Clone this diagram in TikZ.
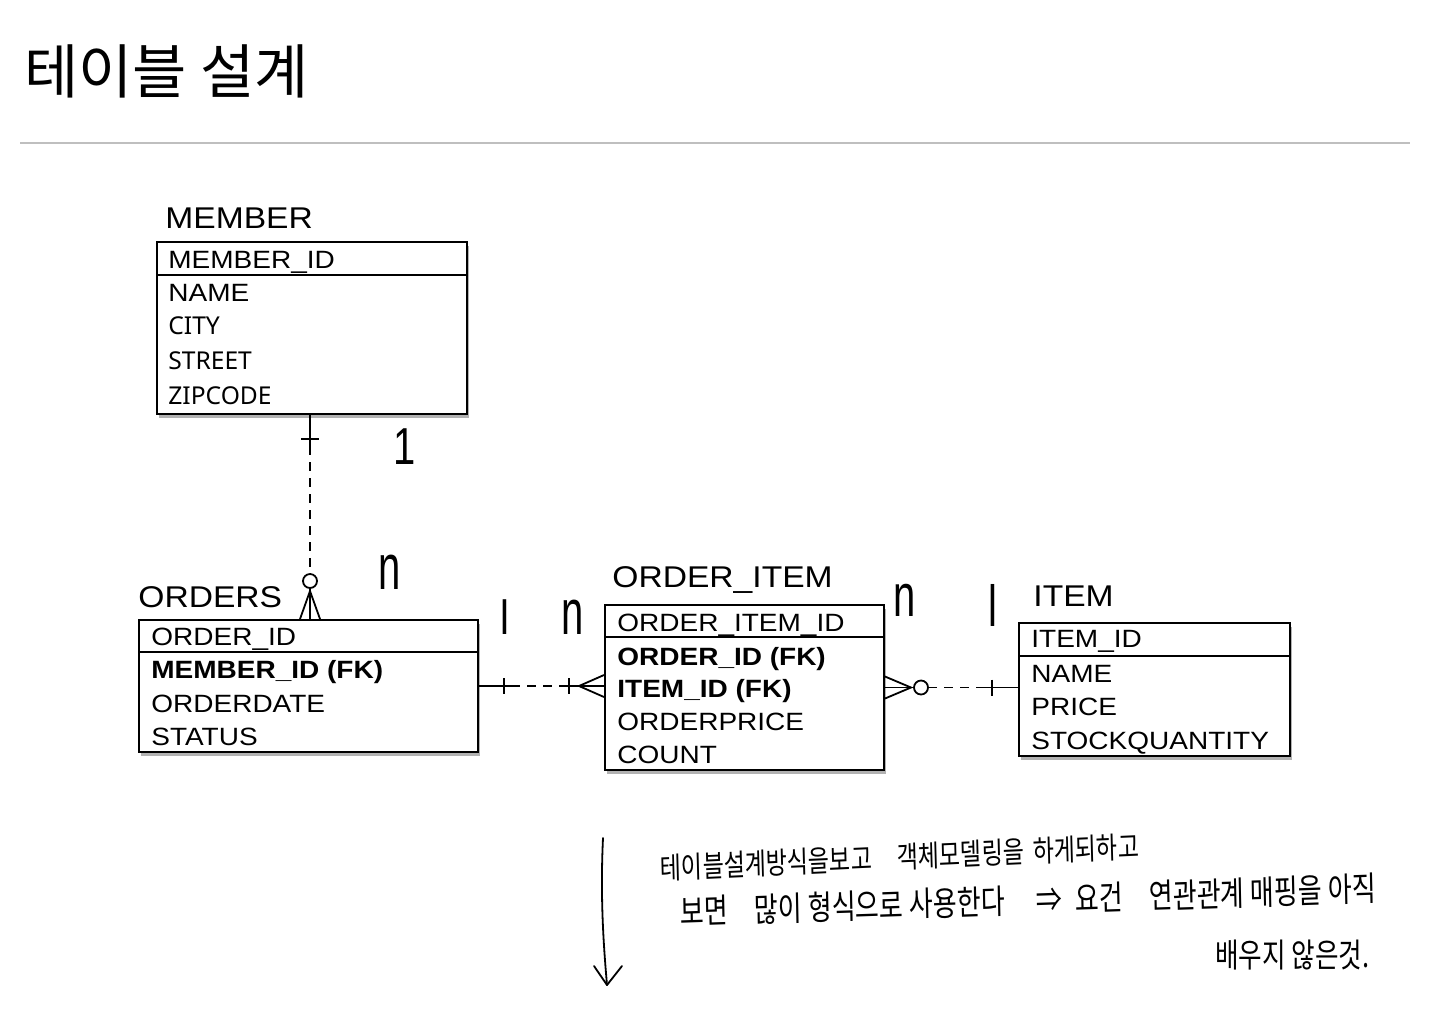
\documentclass[tikz,border=0pt]{standalone}
\usepackage{fontspec}
\usetikzlibrary{calc,shadows}
\newfontfamily\lsans[FakeStretch=1.12]{Liberation Sans}
\newfontfamily\nsans{Noto Sans}
\newfontfamily\kr{Noto Sans CJK KR}
\newfontfamily\hand{Liberation Sans}
\tikzset{
  tbl/.style={draw, line width=1pt, fill=white, rectangle, inner sep=0pt,
    drop shadow={shadow xshift=1.2pt, shadow yshift=-1.8pt, opacity=0.3, fill=black}},
  fld/.style={anchor=base west, inner sep=0pt, font=\lsans\fontsize{12.5}{14}\selectfont},
  fldb/.style={fld, font=\lsans\bfseries\fontsize{12.5}{14}\selectfont},
  fldn/.style={anchor=base west, inner sep=0pt, font=\nsans\fontsize{12.3}{14}\selectfont},
  tlabel/.style={anchor=base west, inner sep=0pt, font=\lsans\fontsize{15}{18}\selectfont},
  sep/.style={line width=1pt},
  rel/.style={line width=0.9pt},
  reld/.style={line width=0.9pt, dash pattern=on 4.5pt off 3.5pt},
  hw/.style={inner sep=0pt, font=\hand\fontsize{20}{22}\selectfont},
  hwtext/.style={anchor=west, inner sep=0pt, yscale=1.3},
  hwline/.style={line width=0.9pt, line cap=round, line join=round}
}
\begin{document}
\begin{tikzpicture}[x=0.5pt,y=-0.5pt]
\useasboundingbox[fill=white] (0,0) rectangle (1440,1025);

% title and rule
\node[anchor=west, inner sep=0pt, font=\kr\fontsize{29.5}{34}\selectfont] (title) at (24,71) {테이블 설계};
\coordinate (r1) at (20,143);
\coordinate (r2) at (1410,143);
\draw[black!25, line width=1pt] (r1) -- (r2);

% MEMBER
\node[tlabel] (lmember) at (165,228) {MEMBER};
\node[tbl, minimum width=155pt, minimum height=86pt] (member) at (312,328) {};
\draw[sep] ($(member.north west)+(0,34)$) -- ($(member.north east)+(0,34)$);
\node[fld] (m1) at (168,268) {MEMBER\_ID};
\node[fld] (m2) at (168,301) {NAME};
\node[fldn] (m3) at (168,334) {CITY};
\node[fldn] (m4) at (168,369) {STREET};
\node[fldn] (m5) at (168,404) {ZIPCODE};

% ORDERS
\node[tlabel] (lorders) at (138,607) {ORDERS};
\node[tbl, minimum width=169.5pt, minimum height=66pt] (orders) at (308.5,686) {};
\draw[sep] ($(orders.north west)+(0,33)$) -- ($(orders.north east)+(0,33)$);
\node[fld] (o1) at (151,645) {ORDER\_ID};
\node[fldb] (o2) at (151,678) {MEMBER\_ID (FK)};
\node[fld] (o3) at (151,712) {ORDERDATE};
\node[fld] (o4) at (151,745) {STATUS};

% ORDER_ITEM
\node[tlabel] (loi) at (612,587) {ORDER\_ITEM};
\node[tbl, minimum width=139.5pt, minimum height=82.5pt] (oi) at (744.5,687.5) {};
\draw[sep] ($(oi.north west)+(0,33)$) -- ($(oi.north east)+(0,33)$);
\node[fld] (i1) at (617,631) {ORDER\_ITEM\_ID};
\node[fldb] (i2) at (617,665) {ORDER\_ID (FK)};
\node[fldb] (i3) at (617,697) {ITEM\_ID (FK)};
\node[fld] (i4) at (617,730) {ORDERPRICE};
\node[fld] (i5) at (617,763) {COUNT};

% ITEM
\node[tlabel] (litem) at (1033,606) {ITEM};
\node[tbl, minimum width=135.5pt, minimum height=66.5pt] (item) at (1154.5,689.5) {};
\draw[sep] ($(item.north west)+(0,34)$) -- ($(item.north east)+(0,34)$);
\node[fld] (t1) at (1031,647) {ITEM\_ID};
\node[fld] (t2) at (1031,682) {NAME};
\node[fld] (t3) at (1031,715) {PRICE};
\node[fld] (t4) at (1031,749) {STOCKQUANTITY};

% MEMBER -- ORDERS
\path (member.south) ++(-2,0) coordinate (ms);
\path (ms |- orders.north) coordinate (on);
\draw[rel] (ms) -- ($(ms)+(0,31)$);
\draw[rel] ($(ms)+(-9,24)$) -- ($(ms)+(9,24)$);
\draw[reld] ($(ms)+(0,31)$) -- ($(on)+(0,-45)$);
\draw[rel] ($(on)+(0,-38)$) circle[radius=3.5pt];
\draw[rel] ($(on)+(0,-31)$) -- (on);
\draw[rel] ($(on)+(-10,0)$) -- ($(on)+(0,-28)$) -- ($(on)+(10,0)$);

% ORDERS -- ORDER_ITEM
\path (orders.east) coordinate (oe);
\path (oi.west |- orders.east) coordinate (ow);
\draw[rel] (oe) -- ($(oe)+(32,0)$);
\draw[rel] ($(oe)+(25,-8)$) -- ($(oe)+(25,8)$);
\draw[reld] ($(oe)+(32,0)$) -- ($(ow)+(-38,0)$);
\draw[rel] ($(ow)+(-38,0)$) -- (ow);
\draw[rel] ($(ow)+(-35,-8)$) -- ($(ow)+(-35,8)$);
\draw[rel] ($(ow)+(0,-11)$) -- ($(ow)+(-25,0)$) -- ($(ow)+(0,11)$);

% ORDER_ITEM -- ITEM
\path (oi.east) coordinate (ie0);
\path (item.west |- oi.east) coordinate (iw);
\draw[rel] ($(ie0)+(0,-11)$) -- ($(ie0)+(26,0)$) -- ($(ie0)+(0,11)$);
\draw[rel] (ie0) -- ($(ie0)+(29,0)$);
\draw[rel] ($(ie0)+(36,0)$) circle[radius=3.5pt];
\draw[reld] ($(ie0)+(43,0)$) -- ($(iw)+(-33,0)$);
\draw[rel] ($(iw)+(-33,0)$) -- (iw);
\draw[rel] ($(iw)+(-26,-8)$) -- ($(iw)+(-26,8)$);

% handwritten multiplicities
\node[hw, yscale=1.3] (c1) at (405,447) {1};
\node[hw, yscale=1.6] (c2) at (390,572) {n};
\node[hw, yscale=1.2] (c3) at (505,617) {l};
\node[hw, yscale=1.6] (c4) at (573,617) {n};
\node[hw, yscale=1.5] (c5) at (905,600) {n};
\node[hw, yscale=1.45] (c6) at (993,605) {l};

% handwritten note and arrow
\coordinate (a1) at (603,838);
\coordinate (a2) at (607,985);
\draw[hwline] (a1) .. controls (600,900) and (604,950) .. (a2);
\draw[hwline] (594,966) -- (a2) -- (622,966);
\node[hwtext, rotate=2, font=\kr\fontsize{11.5}{13}\selectfont] (n1) at (660,868)
  {테이블설계방식을보고\hspace{1.1em}객체모델링을\hspace{0.4em}하게되하고};
\node[hwtext, rotate=1.5, font=\kr\fontsize{13}{15}\selectfont] (n2) at (680,912)
  {보면\hspace{1em}많이 형식으로 사용한다\hspace{1.2em}⇒\hspace{0.5em}요건\hspace{1em}연관관계 매핑을 아직};
\node[hwtext, font=\kr\fontsize{12.8}{14}\selectfont] (n3) at (1215,955) {배우지 않은것.};
\end{tikzpicture}
\end{document}
